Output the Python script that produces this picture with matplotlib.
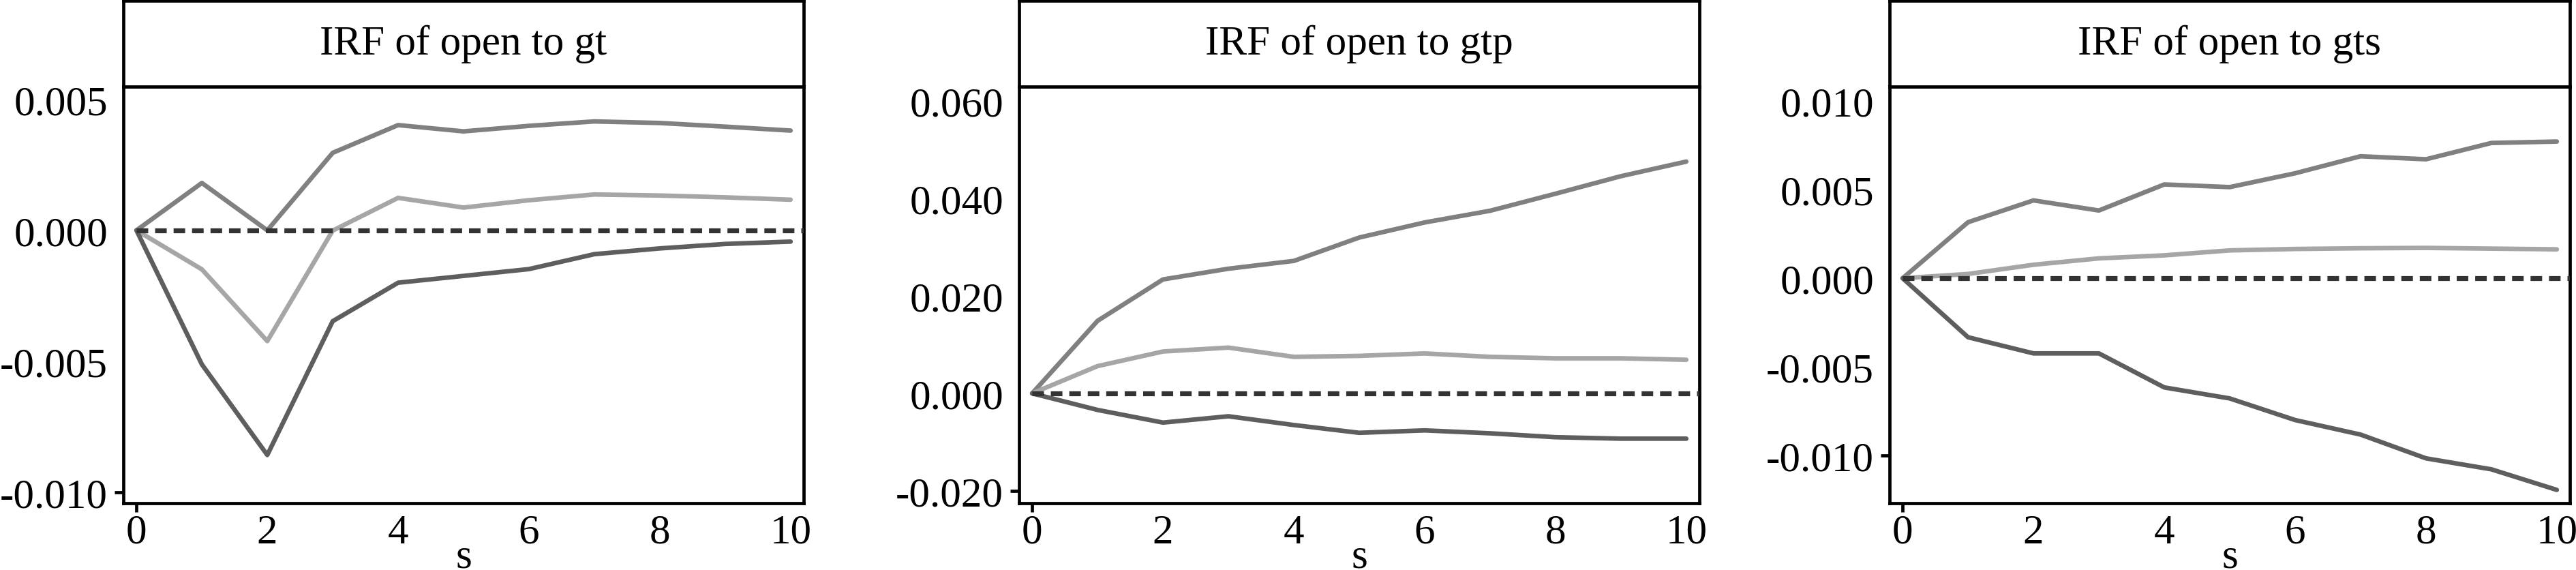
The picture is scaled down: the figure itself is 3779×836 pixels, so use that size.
import matplotlib
matplotlib.use("Agg")
import matplotlib.pyplot as plt
from matplotlib.ticker import FormatStrFormatter

plt.rcParams['font.family'] = ['Liberation Serif', 'DejaVu Serif']
plt.rcParams['axes.unicode_minus'] = False

steps = [0, 1, 2, 3, 4, 5, 6, 7, 8, 9, 10]

titles = ["IRF of open to gt", "IRF of open to gtp", "IRF of open to gts"]

gt_upper = [0, 0.00181, 0.0, 0.00296, 0.00402, 0.00378, 0.00399, 0.00416, 0.00410, 0.00396, 0.00381]
gt_irf = [0, -0.00149, -0.00423, -0.00001, 0.00124, 0.00087, 0.00115, 0.00137, 0.00133, 0.00126, 0.00117]
gt_lower = [0, -0.00512, -0.00858, -0.00347, -0.00200, -0.00174, -0.00148, -0.00091, -0.00069, -0.00052, -0.00043]

gtp_upper = [0, 0.0149, 0.0234, 0.0256, 0.0272, 0.0320, 0.0351, 0.0375, 0.0410, 0.0446, 0.0476]
gtp_irf = [0, 0.0056, 0.0086, 0.0094, 0.0075, 0.0077, 0.0082, 0.0075, 0.0072, 0.0072, 0.0069]
gtp_lower = [0, -0.0034, -0.0060, -0.0047, -0.0065, -0.0081, -0.0076, -0.0082, -0.0090, -0.0093, -0.0093]

gts_upper = [0, 0.00316, 0.00439, 0.00382, 0.00529, 0.00514, 0.00592, 0.00688, 0.00671, 0.00763, 0.00771]
gts_irf = [0, 0.00024, 0.00076, 0.00112, 0.00129, 0.00157, 0.00165, 0.00169, 0.00171, 0.00167, 0.00163]
gts_lower = [0, -0.00333, -0.00424, -0.00424, -0.00616, -0.00678, -0.00800, -0.00882, -0.01016, -0.01078, -0.01194]

yticks_list = [
    [-0.010, -0.005, 0.000, 0.005],
    [-0.020, 0.000, 0.020, 0.040, 0.060],
    [-0.010, -0.005, 0.000, 0.005, 0.010],
]
ylims = [(-0.01042, 0.00549), (-0.02255, 0.0630), (-0.01269, 0.01081)]
xticks = [0, 2, 4, 6, 8, 10]

series = [
    (gt_upper, gt_irf, gt_lower),
    (gtp_upper, gtp_irf, gtp_lower),
    (gts_upper, gts_irf, gts_lower),
]

W, H = 3780, 837
fig = plt.figure(figsize=(W / 100, H / 100), dpi=100)

lefts_px = [181, 1495, 2772]
width_px = 998
top_px, strip_top_px, bottom_px = 128, 2, 739

FS = 44
SPINE_LW = 3.4
LINE_LW = 4.8

for i in range(3):
    l = lefts_px[i] / W
    w = width_px / W
    b = (H - bottom_px) / H
    h = (bottom_px - top_px) / H
    ax = fig.add_axes([l, b, w, h])
    sb = (H - top_px) / H
    sh = (top_px - strip_top_px) / H
    sax = fig.add_axes([l, sb, w, sh])
    sax.set_xticks([])
    sax.set_yticks([])
    for sp in sax.spines.values():
        sp.set_linewidth(SPINE_LW)
    sax.text(0.5, 0.5, titles[i], ha='center', va='center', fontsize=FS,
             transform=sax.transAxes)

    up, mid, lo = series[i]
    kw = dict(lw=LINE_LW, solid_capstyle='round', solid_joinstyle='round', zorder=3)
    ax.plot(steps, up, color='#808080', **kw)
    ax.plot(steps, mid, color='#a6a6a6', **kw)
    ax.plot(steps, lo, color='#5e5e5e', **kw)

    ax.set_xlim(-0.2, 10.2)
    ax.set_ylim(*ylims[i])
    ax.hlines(0, 0, 10.2, colors='#333333', linestyles=(0, (2.35, 1.4)), lw=5.2, zorder=4)

    ax.set_xticks(xticks)
    ax.set_yticks(yticks_list[i])
    ax.yaxis.set_major_formatter(FormatStrFormatter('%.3f'))
    ax.tick_params(axis='both', labelsize=FS, length=9.4, width=SPINE_LW, direction='out')
    ax.tick_params(axis='x', pad=1.5)
    ax.tick_params(axis='y', pad=7)
    for t in ax.xaxis.get_major_ticks()[1:]:
        t.tick1line.set_visible(False)
    for t in ax.yaxis.get_major_ticks()[1:]:
        t.tick1line.set_visible(False)
    for sp in ax.spines.values():
        sp.set_linewidth(SPINE_LW)
    ax.set_xlabel('s', fontsize=FS, labelpad=-14)

fig.savefig('out.png', dpi=100)
